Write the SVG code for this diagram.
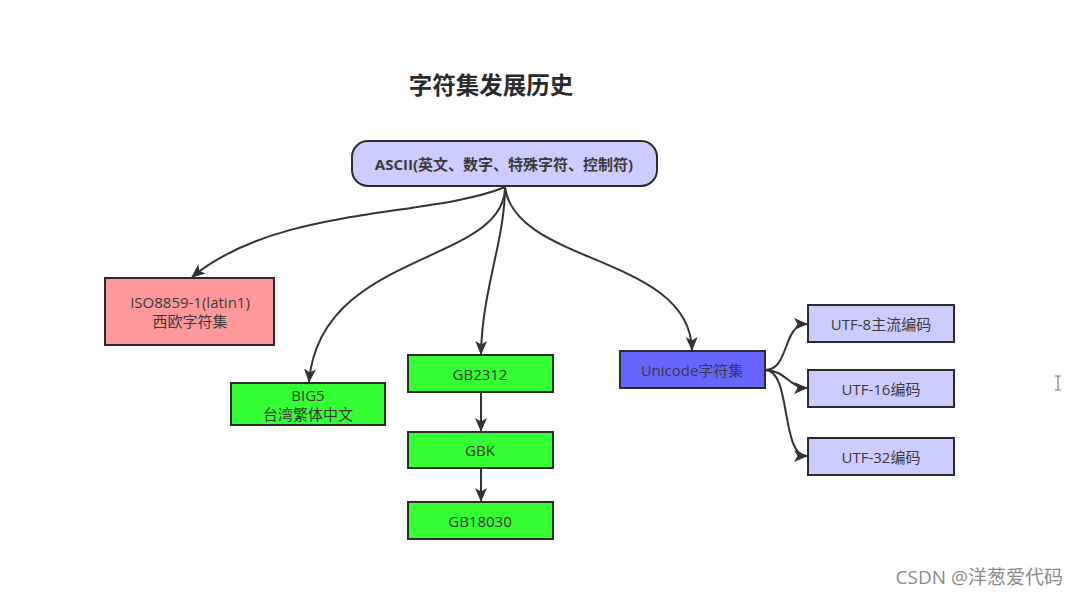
<svg xmlns="http://www.w3.org/2000/svg" width="1079" height="595" viewBox="0 0 1079 595">
<defs>
<style>
.n{stroke:#2b2b2b;stroke-width:2}
.t{font-family:"Open Sans","Noto Sans CJK SC",sans-serif;font-size:15px;fill:#3a3a3a;text-anchor:middle;dominant-baseline:central}
.c{fill:none;stroke:#333;stroke-width:2}
</style>
<marker id="ah" markerWidth="14" markerHeight="14" viewBox="0 0 14 14" refX="13" refY="7" orient="auto" markerUnits="userSpaceOnUse">
<path d="M0,1 L14,7 L0,13 L3.5,7 Z" fill="#333"/>
</marker>
</defs>
<rect width="1079" height="595" fill="#fff"/>
<text x="491" y="84" font-family="Noto Sans CJK SC,sans-serif" font-size="23.5" font-weight="bold" fill="#2b2b2b" text-anchor="middle" dominant-baseline="central">字符集发展历史</text>
<g id="connectors">
<path class="c" marker-end="url(#ah)" d="M505,187 C430,218 280,205 192,277"/>
<path class="c" marker-end="url(#ah)" d="M505,187 C505,265 320,250 309,382"/>
<path class="c" marker-end="url(#ah)" d="M505,187 C505,240 482,290 481,354"/>
<path class="c" marker-end="url(#ah)" d="M505,187 C515,265 690,255 692,350"/>
<path class="c" marker-end="url(#ah)" d="M481,392 L481,431"/>
<path class="c" marker-end="url(#ah)" d="M481,468 L481,501"/>
<path class="c" marker-end="url(#ah)" d="M765,370 C790,370 782,324 807,324"/>
<path class="c" marker-end="url(#ah)" d="M765,370 C785,370 790,388 807,388"/>
<path class="c" marker-end="url(#ah)" d="M765,370 C792,370 780,456 807,456"/>
</g>
<g id="ascii">
<rect class="n" x="352" y="141" width="305" height="45" rx="16" fill="#ccccff"/>
<text class="t" x="504" y="164" font-weight="bold" font-size="14.8" fill="#2b2b2b">ASCII(英文、数字、特殊字符、控制符)</text>
</g>
<g id="iso">
<rect class="n" x="105" y="278" width="169" height="67" fill="#ff9999"/>
<text class="t" x="190" y="302">ISO8859-1(latin1)</text>
<text class="t" x="190" y="321">西欧字符集</text>
</g>
<g id="big5">
<rect class="n" x="231" y="383" width="154" height="42" fill="#33ff33"/>
<text class="t" x="308" y="395" font-size="14.5">BIG5</text>
<text class="t" x="308" y="414" font-size="14.5">台湾繁体中文</text>
</g>
<g id="gb2312">
<rect class="n" x="408" y="355" width="145" height="37" fill="#33ff33"/>
<text class="t" x="480" y="374">GB2312</text>
</g>
<g id="gbk">
<rect class="n" x="408" y="432" width="145" height="36" fill="#33ff33"/>
<text class="t" x="480" y="450">GBK</text>
</g>
<g id="gb18030">
<rect class="n" x="408" y="502" width="145" height="37" fill="#33ff33"/>
<text class="t" x="480" y="521">GB18030</text>
</g>
<g id="unicode">
<rect class="n" x="620" y="351" width="145" height="37" fill="#6666ff"/>
<text class="t" x="692" y="370">Unicode字符集</text>
</g>
<g id="utf8">
<rect class="n" x="808" y="305" width="146" height="37" fill="#ccccff"/>
<text class="t" x="881" y="324">UTF-8主流编码</text>
</g>
<g id="utf16">
<rect class="n" x="808" y="370" width="146" height="37" fill="#ccccff"/>
<text class="t" x="881" y="389">UTF-16编码</text>
</g>
<g id="utf32">
<rect class="n" x="808" y="438" width="146" height="37" fill="#ccccff"/>
<text class="t" x="881" y="457">UTF-32编码</text>
</g>
<path d="M1055,376 H1061 M1058,376 V390 M1055,390 H1061" stroke="#777" stroke-width="1.2" fill="none"/>
<text x="1063" y="577" font-family="Open Sans,Noto Sans CJK SC,sans-serif" font-size="19" fill="#8a8a8a" text-anchor="end" dominant-baseline="central">CSDN @洋葱爱代码</text>
</svg>
